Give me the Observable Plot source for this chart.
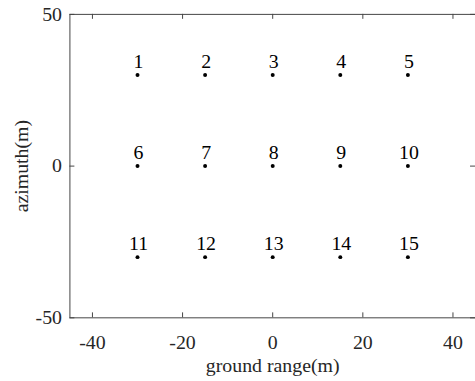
<!DOCTYPE html>
<html><head><meta charset="utf-8">
<script src="https://cdn.jsdelivr.net/npm/d3@7"></script>
<script src="https://cdn.jsdelivr.net/npm/@observablehq/plot@0.6"></script>
<style>
html,body{margin:0;padding:0;background:#fff;overflow:hidden;font-family:"Times New Roman";}
</style>
</head><body>
<div id="chart"></div>
<script>
const labels = ["1","2","3","4","5","6","7","8","9","10","11","12","13","14","15"];
const xs = [-30,-15,0,15,30,-30,-15,0,15,30,-30,-15,0,15,30];
const ys = [30,30,30,30,30,0,0,0,0,0,-30,-30,-30,-30,-30];
const xTicks = [-40,-20,0,20,40];
const yTicks = [-50,0,50];
const xDomain = [-45,45];
const yDomain = [-50,50];

const pts = labels.map((l,i)=>({label:l,x:xs[i],y:ys[i]}));
const font = "Times New Roman";
const ink = "#262626";
const fs = 20;

const W = 479, H = 381, mL = 70, mR = 0, mT = 14, mB = 61;
const tickLen = 5;
const ky = (yDomain[1]-yDomain[0])/(H-mT-mB);
const kx = (xDomain[1]-xDomain[0])/(W-mL-mR);
const fmt = d => String(d);

const chart = Plot.plot({
  width: W, height: H,
  marginLeft: mL, marginRight: mR, marginTop: mT, marginBottom: mB,
  style: {fontFamily: font, fontSize: fs + "px"},
  x: {domain: xDomain},
  y: {domain: yDomain},
  marks: [
    Plot.frame({stroke: "#444", strokeWidth: 1}),
    Plot.axisX({ticks: xTicks, tickFormat: fmt, tickSize: 0, tickPadding: 17, fontSize: fs, fontFamily: font, fill: ink, label: "ground range(m)", labelAnchor: "center", labelArrow: "none", labelOffset: 55}),
    Plot.axisY({ticks: yTicks, tickFormat: fmt, tickSize: 0, tickPadding: 8, fontSize: fs, fontFamily: font, fill: ink, label: "azimuth(m)", labelAnchor: "center", labelArrow: "none", labelOffset: 56}),
    Plot.ruleX(xTicks, {x: d=>d, y1: yDomain[0], y2: yDomain[0]+tickLen*ky, stroke: "#444"}),
    Plot.ruleX(xTicks, {x: d=>d, y1: yDomain[1], y2: yDomain[1]-tickLen*ky, stroke: "#444"}),
    Plot.ruleY(yTicks, {y: d=>d, x1: xDomain[0], x2: xDomain[0]+tickLen*kx, stroke: "#444"}),
    Plot.ruleY(yTicks, {y: d=>d, x1: xDomain[1], x2: xDomain[1]-tickLen*kx, stroke: "#444"}),
    Plot.dot(pts, {x: "x", y: "y", r: 2, fill: "#000", stroke: null}),
    Plot.text(pts, {x: "x", y: "y", text: "label", dy: -14, dx: 1, fontSize: fs, fontFamily: font, fill: "#000"})
  ]
});
document.getElementById("chart").appendChild(chart);
</script>
</body></html>
